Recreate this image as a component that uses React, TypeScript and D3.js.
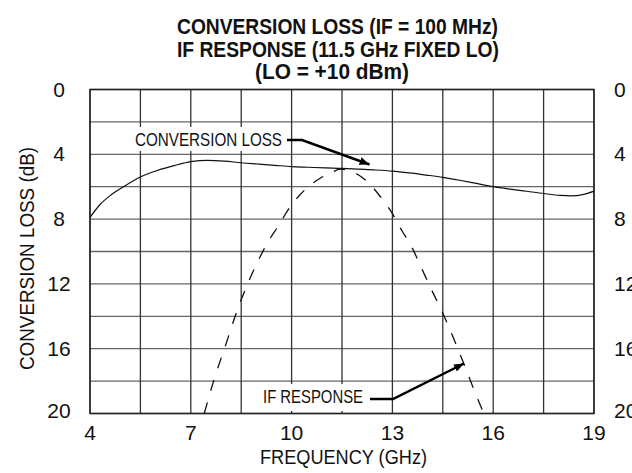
import React from "react";
import * as d3 from "d3";

const titleLines = ["CONVERSION LOSS (IF = 100 MHz)", "IF RESPONSE (11.5 GHz FIXED LO)", "(LO = +10 dBm)"];
const xTicks = [4, 7, 10, 13, 16, 19];
const yTicks = [0, 4, 8, 12, 16, 20];
const xGrid = [4, 5.5, 7, 8.5, 10, 11.5, 13, 14.5, 16, 17.5, 19];
const yGrid = [0, 2, 4, 6, 8, 10, 12, 14, 16, 18, 20];

const clFreq = [4.0, 4.3, 4.6, 5.0, 5.5, 6.0, 6.5, 7.0, 7.5, 8.0, 8.5, 9.0, 9.5, 10.0, 10.5, 11.0, 11.5, 12.0, 12.5, 13.0, 13.5, 14.0, 14.5, 15.0, 15.5, 16.0, 16.5, 17.0, 17.5, 18.0, 18.3, 18.7, 19.0];
const clLoss = [7.9, 7.1, 6.55, 6.0, 5.4, 5.0, 4.7, 4.45, 4.37, 4.42, 4.52, 4.6, 4.68, 4.76, 4.8, 4.84, 4.87, 4.92, 4.97, 5.04, 5.15, 5.28, 5.42, 5.6, 5.8, 6.0, 6.15, 6.28, 6.42, 6.54, 6.57, 6.47, 6.27];

const ifFreq = [7.4, 7.7, 8.02, 8.37, 8.74, 9.04, 9.36, 9.6, 9.89, 10.25, 10.5, 10.85, 11.19, 11.45, 11.69, 12.04, 12.35, 12.58, 12.83, 13.01, 13.2, 13.38, 13.57, 13.87, 14.17, 14.52, 14.89, 15.16, 15.41, 15.72];
const ifLoss = [20.0, 17.85, 15.88, 13.7, 11.76, 10.42, 9.2, 8.45, 7.45, 6.5, 6.0, 5.48, 5.12, 4.92, 5.0, 5.34, 5.9, 6.45, 7.13, 7.69, 8.43, 9.04, 9.7, 11.04, 12.38, 13.9, 15.71, 17.11, 18.44, 20.0];

const FONT = "'Liberation Sans', Arial, Helvetica, sans-serif";

export default function App() {
  const W = 632, H = 473;
  const x = d3.scaleLinear().domain([4, 19]).range([90, 594]);
  const y = d3.scaleLinear().domain([0, 20]).range([89.5, 413.5]);

  const line = d3
    .line<[number, number]>()
    .x((d) => x(d[0]))
    .y((d) => y(d[1]))
    .curve(d3.curveMonotoneX);

  const clPath = line(clFreq.map((f, i) => [f, clLoss[i]] as [number, number])) || "";
  const ifPath = line(ifFreq.map((f, i) => [f, ifLoss[i]] as [number, number])) || "";

  const titleX = [177, 177, 255];
  const titleLen = [321, 322, 154];
  const titleY = [34.3, 56.5, 78.6];

  return (
    <>
      <style>{`body{margin:0}`}</style>
      <svg width={W} height={H} style={{ display: "block", background: "#fff" }} fontFamily={FONT}>
        <defs>
          <marker id="ah" viewBox="0 0 10 8" refX="10" refY="4" markerWidth="10" markerHeight="8" markerUnits="userSpaceOnUse" orient="auto">
            <path d="M0,0 L10,4 L0,8 Z" fill="#000" />
          </marker>
        </defs>
        <rect x={0} y={0} width={W} height={H} fill="#fff" />
        {titleLines.map((t, i) => (
          <text key={i} x={titleX[i]} y={titleY[i]} fontSize={22} fontWeight="bold" textLength={titleLen[i]} lengthAdjust="spacingAndGlyphs" fill="#111">
            {t}
          </text>
        ))}
        {/* grid */}
        {yGrid.map((v) => (
          <line key={"h" + v} x1={x(4)} x2={x(19)} y1={y(v)} y2={y(v)} stroke="#666" strokeWidth={1.3} />
        ))}
        {xGrid.map((v) => (
          <line key={"v" + v} x1={x(v)} x2={x(v)} y1={y(0)} y2={y(20)} stroke="#333" strokeWidth={1.3} />
        ))}
        <rect x={x(4)} y={y(0)} width={x(19) - x(4)} height={y(20) - y(0)} fill="none" stroke="#222" strokeWidth={1.4} />
        {/* label boxes */}
        <rect x={130} y={127} width={155} height={24} fill="#fff" />
        <rect x={258} y={384} width={109} height={27} fill="#fff" />
        {/* curves */}
        <path d={clPath} fill="none" stroke="#111" strokeWidth={1.2} />
        <path d={ifPath} fill="none" stroke="#111" strokeWidth={1.3} strokeDasharray="11.5,12" />
        {/* annotations */}
        <text x={135} y={146} fontSize={18} textLength={147} lengthAdjust="spacingAndGlyphs" fill="#111">CONVERSION LOSS</text>
        <polyline points="287,140 302,140 369.5,164.5" fill="none" stroke="#000" strokeWidth={2.5} markerEnd="url(#ah)" />
        <text x={263} y={403.3} fontSize={18} textLength={100} lengthAdjust="spacingAndGlyphs" fill="#111">IF RESPONSE</text>
        <polyline points="370,399 393,399 464,363.5" fill="none" stroke="#000" strokeWidth={2.5} markerEnd="url(#ah)" />
        {/* y tick labels */}
        {yTicks.map((v) => (
          <text key={"yl" + v} x={59} y={Math.min(y(v) + 7, 418)} fontSize={21} textAnchor="middle" fill="#111">
            {v}
          </text>
        ))}
        {yTicks.map((v) => (
          <text key={"yr" + v} x={614} y={Math.min(y(v) + 7, 418)} fontSize={21} textAnchor="start" fill="#111">
            {v}
          </text>
        ))}
        {/* x tick labels */}
        {xTicks.map((v) => (
          <text key={"xl" + v} x={x(v)} y={440} fontSize={21} textAnchor="middle" fill="#111">
            {v}
          </text>
        ))}
        <text x={260} y={464} fontSize={21} textLength={167} lengthAdjust="spacingAndGlyphs" fill="#111">FREQUENCY (GHz)</text>
        <text transform="translate(34,370) rotate(-90)" x={0} y={0} fontSize={21} textLength={223} lengthAdjust="spacingAndGlyphs" fill="#111">
          CONVERSION LOSS (dB)
        </text>
      </svg>
    </>
  );
}
